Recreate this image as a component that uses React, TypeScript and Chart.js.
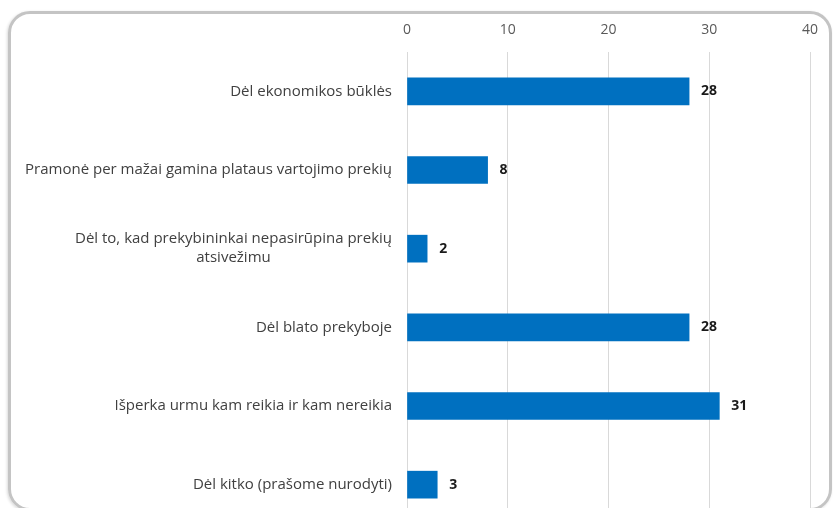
import React, { useEffect, useRef } from "react";
import { Chart, registerables } from "chart.js";

Chart.register(...registerables);

const categories: (string | string[])[] = [
  "Dėl ekonomikos būklės",
  "Pramonė per mažai gamina plataus vartojimo prekių",
  ["Dėl to, kad prekybininkai nepasirūpina prekių", "atsivežimu"],
  "Dėl blato prekyboje",
  "Išperka urmu kam reikia ir kam nereikia",
  "Dėl kitko (prašome nurodyti)",
];
const values = [28, 8, 2, 28, 31, 3];
const xMin = 0;
const xMax = 40;
const xStep = 10;

const FONT = "'Open Sans', 'Noto Sans', sans-serif";

const categoryLabelPlugin = {
  id: "categoryLabels",
  afterDraw(chart: any) {
    const { ctx, chartArea } = chart;
    const yScale = chart.scales.y;
    ctx.save();
    ctx.font = `15px ${FONT}`;
    ctx.fillStyle = "#404040";
    ctx.textBaseline = "middle";
    const right = chartArea.left - 15;
    const lineH = 19;
    categories.forEach((lab, i) => {
      const lines = Array.isArray(lab) ? lab : [lab];
      const cy = yScale.getPixelForValue(i);
      const widths = lines.map((l) => ctx.measureText(l).width);
      const maxW = Math.max(...widths);
      const center = right - maxW / 2;
      const startY = cy - ((lines.length - 1) * lineH) / 2;
      lines.forEach((l, j) => {
        ctx.textAlign = lines.length > 1 ? "center" : "right";
        ctx.fillText(l, lines.length > 1 ? center : right, startY + j * lineH);
      });
    });
    ctx.restore();
  },
};

const valueLabelPlugin = {
  id: "valueLabels",
  afterDatasetsDraw(chart: any) {
    const { ctx } = chart;
    const meta = chart.getDatasetMeta(0);
    ctx.save();
    ctx.font = `bold 14px ${FONT}`;
    ctx.fillStyle = "#1a1a1a";
    ctx.textAlign = "left";
    ctx.textBaseline = "middle";
    meta.data.forEach((bar: any, i: number) => {
      ctx.fillText(String(values[i]), bar.x + 12, bar.y);
    });
    ctx.restore();
  },
};

export default function App() {
  const ref = useRef<HTMLCanvasElement | null>(null);
  useEffect(() => {
    if (!ref.current) return;
    const chart = new Chart(ref.current, {
      type: "bar",
      data: {
        labels: categories as any,
        datasets: [
          {
            data: values,
            backgroundColor: "#0070C0",
            barThickness: 27,
          },
        ],
      },
      options: {
        indexAxis: "y",
        responsive: false,
        animation: false,
        layout: { padding: { left: 407, right: 23, top: 0, bottom: 0 } },
        plugins: {
          legend: { display: false },
          tooltip: { enabled: false },
        },
        scales: {
          x: {
            position: "top",
            min: xMin,
            max: xMax,
            ticks: {
              stepSize: xStep,
              color: "#595959",
              font: { family: FONT, size: 14 },
              padding: 14,
            },
            grid: { color: "#d9d9d9", drawTicks: false },
            border: { display: false },
            afterFit: (s: any) => {
              s.height = 52;
            },
          },
          y: {
            display: false,
          },
        },
      },
      plugins: [categoryLabelPlugin, valueLabelPlugin],
    });
    return () => chart.destroy();
  }, []);

  return (
    <div style={{ position: "absolute", left: 0, top: 0, width: 833, height: 524 }}>
      <div
        style={{
          position: "absolute",
          left: 8,
          top: 11,
          width: 824,
          height: 500,
          boxSizing: "border-box",
          border: "3px solid #c4c4c4",
          borderRadius: 22,
          boxShadow: "-1px 1px 3px rgba(0,0,0,0.15)",
        }}
      />
      <canvas
        ref={ref}
        width={833}
        height={524}
        style={{ position: "absolute", left: 0, top: 0 }}
      />
    </div>
  );
}
